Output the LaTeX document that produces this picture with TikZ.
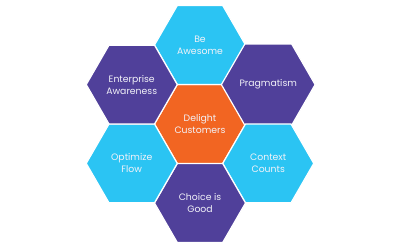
\documentclass[tikz,border=0pt]{standalone}
\usepackage{fontspec}
\setmainfont{Poppins}
\usetikzlibrary{shapes.geometric}
\definecolor{hexcyan}{HTML}{2BC4F3}
\definecolor{hexpurple}{HTML}{50409A}
\definecolor{hexorange}{HTML}{F26522}
\definecolor{hextext}{HTML}{F2F2F8}
\begin{document}
\begin{tikzpicture}[x=1pt,y=-1pt,
  hexbox/.style={regular polygon, regular polygon sides=6,
    minimum size=91pt, inner sep=0pt, outer sep=0pt, draw=white, line width=1.2pt,
    text=hextext, align=center, font=\fontsize{9.3}{12}\selectfont},
  cyanhex/.style={hexbox, fill=hexcyan},
  purplehex/.style={hexbox, fill=hexpurple},
  orangehex/.style={hexbox, fill=hexorange}]
\useasboundingbox (0,0) rectangle (400,250);
\fill[white] (0,0) rectangle (400,250);
\node[orangehex] (center) at (200,124) {Delight\\Customers};
\node[cyanhex] (top) at (200,45) {Be\\Awesome};
\node[purplehex] (tr) at (268.25,84.6) {Pragmatism};
\node[cyanhex] (br) at (268.25,163.4) {Context\\Counts};
\node[purplehex] (bottom) at (200,203) {Choice is\\Good};
\node[cyanhex] (bl) at (131.75,163.4) {Optimize\\Flow};
\node[purplehex] (tl) at (131.75,84.6) {Enterprise\\Awareness};
\end{tikzpicture}
\end{document}
